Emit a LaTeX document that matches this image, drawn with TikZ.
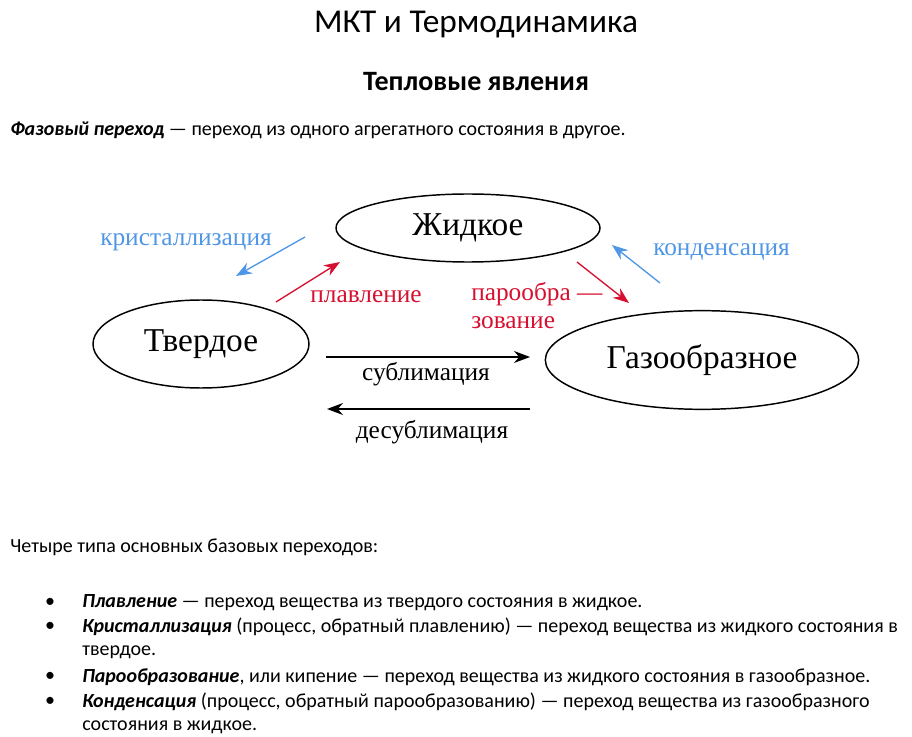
\documentclass[tikz,border=0pt]{standalone}
\usepackage{fontspec}
\setmainfont{Carlito}
\newfontfamily\diagfont{Liberation Serif}
\usetikzlibrary{shapes.geometric, arrows.meta, positioning}

\definecolor{crysblue}{RGB}{80,150,230}
\definecolor{meltred}{RGB}{214,16,48}

\tikzset{
  phase/.style={draw, ellipse, line width=1.1pt, inner sep=0pt,
    font=\diagfont\fontsize{25}{28}\selectfont},
  lbl/.style={font=\diagfont\fontsize{19}{20}\selectfont, inner sep=0pt},
  trans/.style={-{Stealth[length=12pt,width=9pt]}, line width=1pt},
  txt/.style={anchor=west, inner sep=0pt, font=\fontsize{15}{18}\selectfont},
  dot/.style={inner sep=0pt, font=\fontsize{15}{18}\selectfont},
}

\begin{document}
\begin{tikzpicture}[x=0.75pt, y=-0.75pt]
  \useasboundingbox (0,0) rectangle (912,737);

  % headings
  \node[font=\fontsize{25}{30}\selectfont] (title) at (476,25) {МКТ и Термодинамика};
  \node[font=\bfseries\fontsize{21}{24}\selectfont] (subtitle) at (476,82) {Тепловые явления};
  \node[txt] (defn) at (10,130) {\textbf{\textit{Фазовый переход}} — переход из одного агрегатного состояния в другое.};

  % states
  \node[phase, minimum width=198pt, minimum height=51pt] (liquid) at (468,228) {Жидкое};
  \node[phase, minimum width=162pt, minimum height=66pt] (solid) at (201,344) {Твердое};
  \node[phase, minimum width=235pt, minimum height=74pt] (gas) at (702,360) {Газообразное};

  % arrow ends
  \coordinate (cr1) at (305,237);
  \coordinate (cr2) at (236,276);
  \coordinate (ml1) at (276,302);
  \coordinate (ml2) at (340,262);
  \coordinate (ev1) at (577,262);
  \coordinate (ev2) at (629,303);
  \coordinate (cn1) at (660,283);
  \coordinate (cn2) at (612,245);
  \coordinate (sb1) at (326,357);
  \coordinate (sb2) at (530,357);
  \coordinate (ds1) at (530,409);
  \coordinate (ds2) at (327,409);

  \draw[trans, crysblue] (cr1) -- (cr2);
  \draw[trans, meltred] (ml1) -- (ml2);
  \draw[trans, meltred] (ev1) -- (ev2);
  \draw[trans, crysblue] (cn1) -- (cn2);
  \draw[trans] (sb1) -- (sb2);
  \draw[trans] (ds1) -- (ds2);

  % transition labels
  \node[lbl, text=crysblue, anchor=west] (lcr) at (100,242) {кристаллизация};
  \node[lbl, text=meltred] (lml) at (366,297) {плавление};
  \node[lbl, text=meltred, anchor=west, align=left] (lev) at (471,306) {парообра —\\[1pt]зование};
  \node[lbl, text=crysblue, anchor=west] (lcn) at (653,252) {конденсация};
  \node[lbl] (lsb) at (426,374) {сублимация};
  \node[lbl] (lds) at (432,432) {десублимация};

  % list
  \node[txt] (four) at (10,547) {Четыре типа основных базовых переходов:};
  \node[dot] (d1) at (50,603) {•};
  \node[txt] (i1) at (82,603) {\textbf{\textit{Плавление}} — переход вещества из твердого состояния в жидкое.};
  \node[dot] (d2) at (50,627) {•};
  \node[txt] (i2) at (82,627) {\textbf{\textit{Кристаллизация}} (процесс, обратный плавлению) — переход вещества из жидкого состояния в};
  \node[txt] (i2b) at (82,652) {твердое.};
  \node[dot] (d3) at (50,677) {•};
  \node[txt] (i3) at (82,677) {\textbf{\textit{Парообразование}}, или кипение — переход вещества из жидкого состояния в газообразное.};
  \node[dot] (d4) at (50,702) {•};
  \node[txt] (i4) at (82,702) {\textbf{\textit{Конденсация}} (процесс, обратный парообразованию) — переход вещества из газообразного};
  \node[txt] (i4b) at (82,727) {состояния в жидкое.};
\end{tikzpicture}
\end{document}
